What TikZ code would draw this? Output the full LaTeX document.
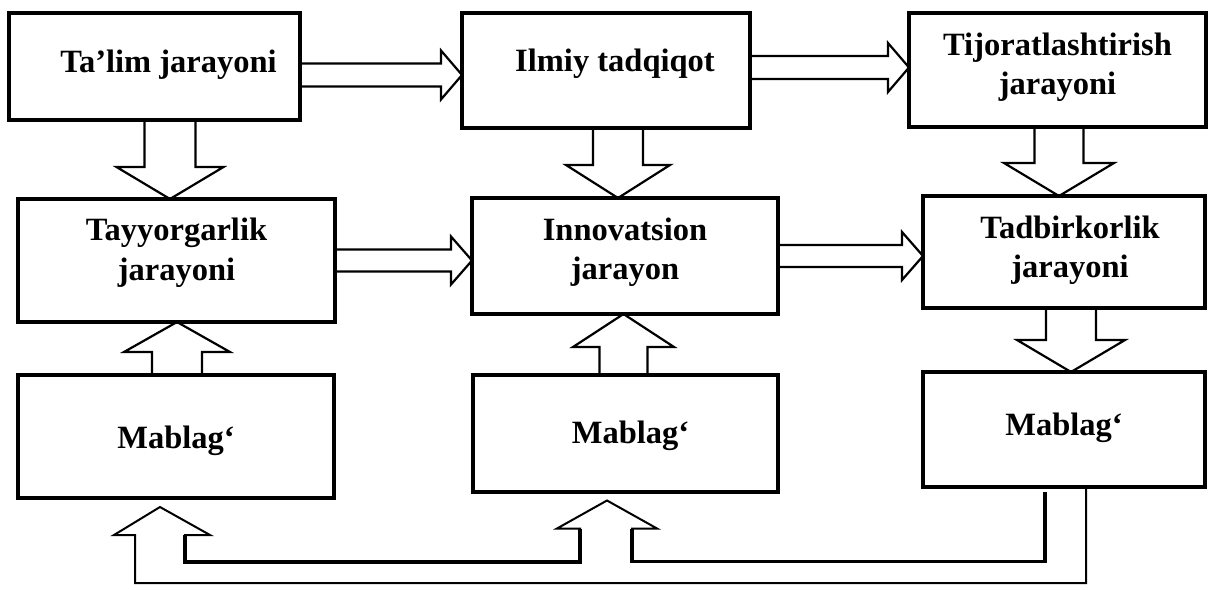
\documentclass[tikz,border=0pt]{standalone}
\usepackage{fontspec}
\setmainfont{Liberation Serif}
\usetikzlibrary{calc,positioning}

\begin{document}
\begin{tikzpicture}[
  x=1pt, y=-1pt,
  box/.style={draw, line width=3.5pt, inner sep=0pt, outer sep=0pt},
  txt/.style={font=\fontsize{32.5}{39.5}\selectfont\bfseries, align=center},
  fat/.style n args={3}{draw, line width=2.2pt, line join=miter, to path={
    ($(\tikztotarget)!#3!(\tikztostart)$) coordinate (fatb)
    ($(\tikztostart)!#1!90:(\tikztotarget)$)
    -- ($(fatb)!#1!-90:(\tikztostart)$)
    -- ($(fatb)!#2!-90:(\tikztostart)$)
    -- (\tikztotarget)
    -- ($(fatb)!#2!90:(\tikztostart)$)
    -- ($(fatb)!#1!90:(\tikztostart)$)
    -- ($(\tikztostart)!#1!-90:(\tikztotarget)$)}},
  backline/.style={draw, line width=2pt, line join=miter},
  backthick/.style={draw, line width=3.6pt, line cap=square}
]
\useasboundingbox (0,0) rectangle (1209,589);

% top row
\node[box, minimum width=291pt, minimum height=107pt, anchor=north west,
  label={[txt, xshift=14pt, yshift=2pt]center:Ta’lim jarayoni}] (ta) at (9,13) {};
\node[box, minimum width=288pt, minimum height=115pt, below right=0pt and 162pt of ta.north east,
  label={[txt, xshift=9pt, yshift=7pt]center:Ilmiy tadqiqot}] (il) {};
\node[box, minimum width=297pt, minimum height=114pt, below right=0pt and 159pt of il.north east,
  label={[txt, yshift=3pt]center:Tijoratlashtirish\\jarayoni}] (ti) {};

% middle row
\node[box, minimum width=317pt, minimum height=123pt, below right=79pt and 9pt of ta.south west,
  label={[txt, yshift=8pt]center:Tayyorgarlik\\jarayoni}] (tay) {};
\node[box, minimum width=306pt, minimum height=116pt, below right=70pt and 10pt of il.south west,
  label={[txt, yshift=4pt]center:Innovatsion\\jarayon}] (inn) {};
\node[box, minimum width=282pt, minimum height=112pt, below right=69pt and 14pt of ti.south west,
  label={[txt, xshift=6pt, yshift=2pt]center:Tadbirkorlik\\jarayoni}] (tad) {};

% bottom row
\node[box, minimum width=316pt, minimum height=123pt, below right=53pt and 0pt of tay.south west,
  label={[txt, yshift=-4pt]center:Mablag‘}] (m1) {};
\node[box, minimum width=305pt, minimum height=117pt, below right=61pt and 1pt of inn.south west,
  label={[txt, xshift=5pt, yshift=-2pt]center:Mablag‘}] (m2) {};
\node[box, minimum width=282pt, minimum height=115pt, below right=64pt and 0pt of tad.south west,
  label={[txt, yshift=2pt]center:Mablag‘}] (m3) {};

% block arrows
\coordinate (h1) at ([yshift=-8.5pt]ta.east);
\coordinate (h2) at ([yshift=3pt]il.east);
\coordinate (v1) at ([xshift=15.5pt]ta.south);
\coordinate (v2) at ([xshift=12pt]il.south);
\coordinate (v3) at ([xshift=1.5pt]ti.south);
\coordinate (u1) at ([xshift=1pt]m1.north);
\coordinate (u2) at ([xshift=-2pt]m2.north);
\coordinate (d3) at ([xshift=7pt]tad.south);

\draw[fat={11.5pt}{24.5pt}{21pt}] (h1) to (il.west |- h1);
\draw[fat={11.5pt}{24.5pt}{21pt}] (h2) to (ti.west |- h2);
\draw[fat={11pt}{24pt}{21pt}] (tay.east) to (inn.west |- tay.east);
\draw[fat={11pt}{24pt}{21pt}] (inn.east) to (tad.west |- inn.east);
\draw[fat={25.5pt}{53.5pt}{32pt}] (v1) to (tay.north -| v1);
\draw[fat={25pt}{52pt}{33pt}] (v2) to (inn.north -| v2);
\draw[fat={24.5pt}{55pt}{33pt}] (v3) to (tad.north -| v3);
\draw[fat={25pt}{53pt}{30pt}] (u1) to (tay.south -| u1);
\draw[fat={24pt}{50.5pt}{33pt}] (u2) to (inn.south -| u2);
\draw[fat={25pt}{54pt}{32pt}] (d3) to (m3.north -| d3);

% return of funds
\coordinate (f1) at ([xshift=-16pt,yshift=-9pt]m1.south);
\coordinate (f2) at ([xshift=-18.5pt,yshift=-8.5pt]m2.south);
\draw[backline] ([xshift=22pt]m3.south) -- ++(0,96) -| ($(f1)+(-25,28)$) -- ++(-21,0) -- (f1)
  -- ++(50,28) -- ++(-25,0) coordinate (g1) -- ++(0,27) -| ($(f2)+(-27,28)$) coordinate (g2)
  -- ++(-23,0) -- (f2) -- ++(50,28) -- ++(-25,0) coordinate (g3) -- ++(0,33)
  -| ([xshift=-19pt,yshift=-5pt]m3.south) coordinate (g4);
\draw[backthick] (g1) -- ++(0,27) -| (g2);
\draw[backthick] (g3) -- ++(0,33) -| (g4);
\end{tikzpicture}
\end{document}
